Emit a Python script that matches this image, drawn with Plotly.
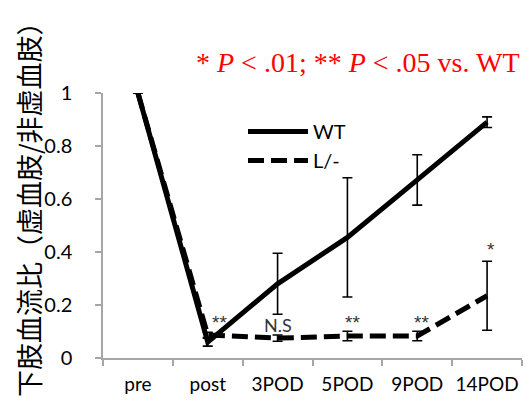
import plotly.graph_objects as go

categories = ["pre", "post", "3POD", "5POD", "9POD", "14POD"]
wt_values = [1.0, 0.06, 0.28, 0.455, 0.672, 0.89]
wt_errors = [0.0, 0.015, 0.115, 0.225, 0.095, 0.02]
lko_values = [1.0, 0.087, 0.075, 0.083, 0.083, 0.235]
lko_errors = [0.0, 0.01, 0.012, 0.018, 0.018, 0.13]

sig_labels = ["**", "N.S", "**", "**", "*"]
sig_categories = ["post", "3POD", "5POD", "9POD", "14POD"]
sig_y = [0.135, 0.125, 0.135, 0.135, 0.41]
sig_xshift = [12, 0, 5, 4, 4]
sig_sizes = [19, 18, 19, 19, 19]

y_ticks = [0, 0.2, 0.4, 0.6, 0.8, 1]
y_tick_text = ["0", "0.2", "0.4", "0.6", "0.8", "1"]

OFF = 8  # page body margin
W, H = 532 - OFF, 401 - OFF
ml, mt = 103 - OFF, 93 - OFF
pw, ph = 419, 265
mr = W - ml - pw
mb = H - mt - ph


def px_x(v):
    return (v - OFF - ml) / pw


def px_y(v):
    return (mt + ph - (v - OFF)) / ph


fig = go.Figure()
fig.add_trace(go.Scatter(
    x=categories, y=wt_values, name="WT", mode="lines",
    line=dict(color="black", width=5),
    error_y=dict(type="data", array=wt_errors, visible=True,
                 color="black", thickness=1.6, width=5),
))
fig.add_trace(go.Scatter(
    x=categories, y=lko_values, name="L/-", mode="lines",
    line=dict(color="black", width=5, dash="16px,7px"),
    error_y=dict(type="data", array=lko_errors, visible=True,
                 color="black", thickness=1.6, width=5),
))

for lab, cat, yy, xs, fs in zip(sig_labels, sig_categories, sig_y, sig_xshift, sig_sizes):
    fam = "Lato" if lab == "N.S" else "Liberation Sans"
    fig.add_annotation(x=cat, y=yy, xref="x", yref="y", text=lab, showarrow=False,
                       xshift=xs, xanchor="center", yanchor="middle",
                       font=dict(family=fam, size=fs, color="#333333"))

fig.add_annotation(
    x=px_x(358), y=px_y(62), xref="paper", yref="paper",
    xanchor="center", yanchor="middle",
    text="* <i>P</i> &lt; .01; ** <i>P</i> &lt; .05 vs. WT",
    showarrow=False, font=dict(family="Liberation Serif", size=28, color="#ff0000"),
)
fig.add_annotation(
    x=px_x(28), y=px_y(203), xref="paper", yref="paper",
    xanchor="center", yanchor="middle",
    text="下肢血流比（虚血肢/非虚血肢）",
    textangle=-90, showarrow=False,
    font=dict(family="Noto Sans CJK JP", size=27, color="black"),
)

fig.update_layout(
    width=W, height=H,
    margin=dict(l=ml, r=mr, t=mt, b=mb, autoexpand=False),
    paper_bgcolor="white", plot_bgcolor="white",
    showlegend=True,
    legend=dict(x=px_x(243), y=px_y(112), xanchor="left", yanchor="top",
                font=dict(family="Lato", size=20, color="black"),
                bgcolor="rgba(0,0,0,0)", itemwidth=60, tracegroupgap=0),
    font=dict(family="Lato", size=19, color="black"),
)
fig.update_xaxes(
    type="category", tickson="boundaries", ticks="outside", ticklen=6,
    tickcolor="#a6a6a6", tickwidth=1.5, tickangle=0, automargin=False,
    showline=True, linecolor="#a6a6a6", linewidth=1.5, showgrid=False,
    tickfont=dict(family="Lato", size=19, color="black"),
    ticklabelstandoff=8,
    range=[-0.5, 5.5],
)
fig.update_yaxes(
    range=[0, 1], tickvals=y_ticks, ticktext=y_tick_text, ticks="outside", ticklen=6,
    tickcolor="#a6a6a6", tickwidth=1.5, automargin=False,
    showline=True, linecolor="#a6a6a6", linewidth=1.5, showgrid=False, zeroline=False,
    tickfont=dict(family="Lato", size=20, color="black"),
    ticklabelstandoff=19,
)

fig.write_html("out.html")
